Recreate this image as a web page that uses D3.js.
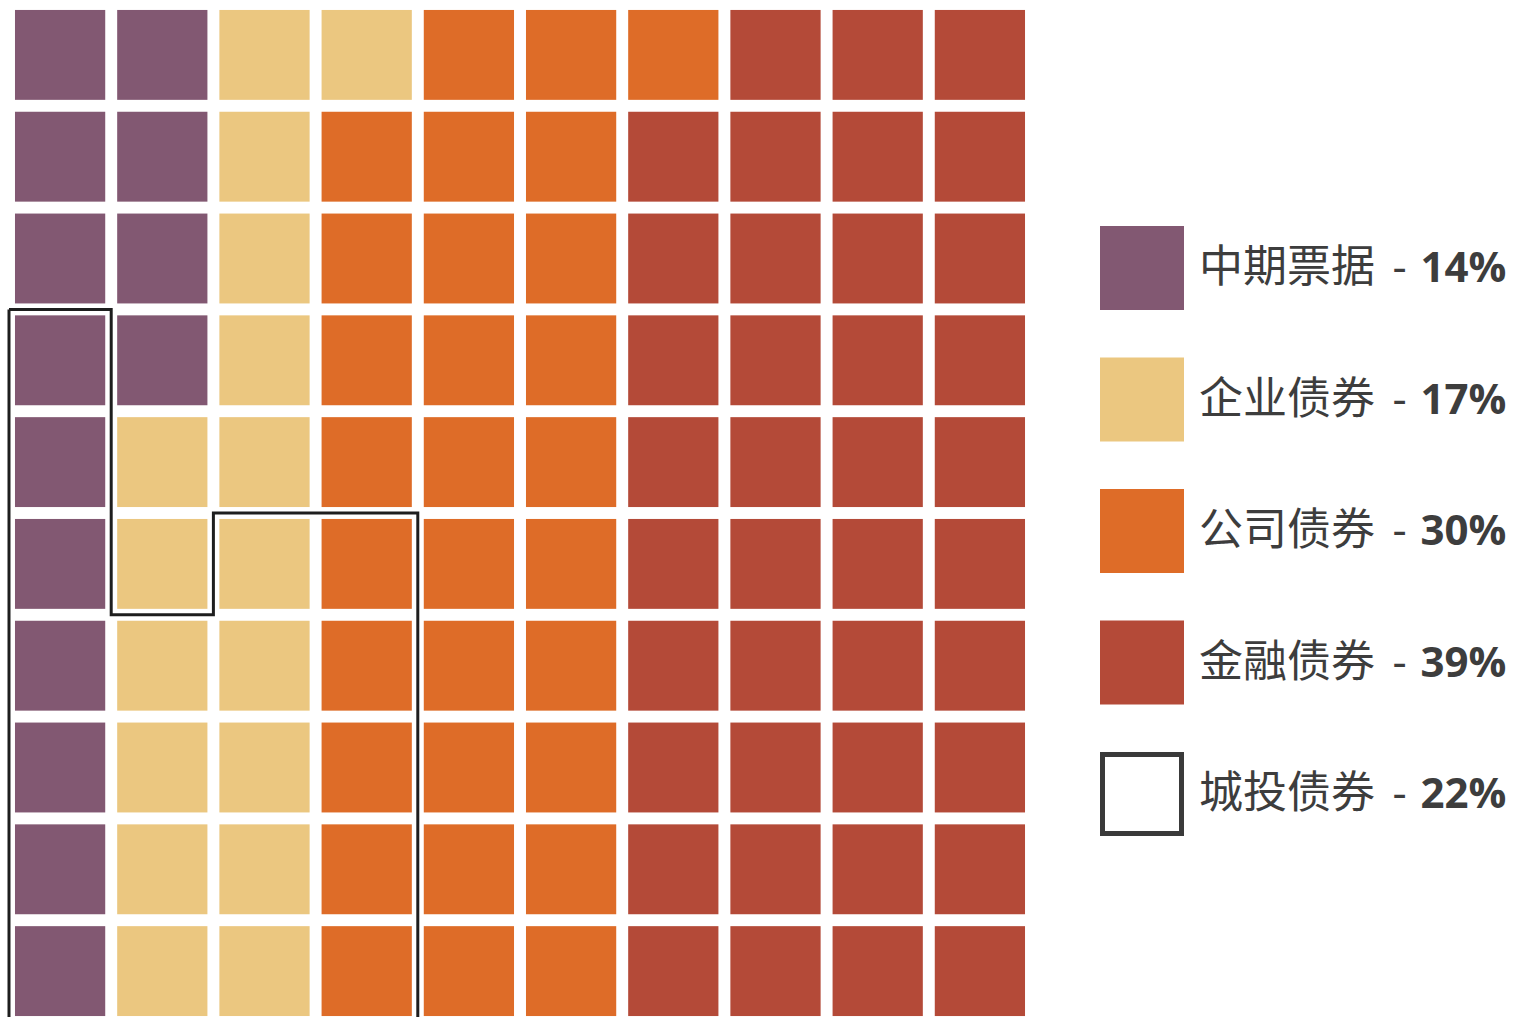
<!DOCTYPE html>
<html>
<head>
<meta charset="utf-8">
<script src="https://cdn.jsdelivr.net/npm/d3@7"></script>
<style>
  html, body { margin: 0; padding: 0; background: #fff; overflow: hidden; }
  svg { display: block; }
</style>
</head>
<body>
<svg id="chart" width="1521" height="1017"></svg>
<script>
// ---- data ----
const categories = ["中期票据", "企业债券", "公司债券", "金融债券"];
const values = [14, 17, 30, 39];
const colors = ["#825872", "#ebc780", "#de6c28", "#b44a38"];
const overlayLabel = "城投债券";
const overlayValue = 22;
// outline of the overlay region, in grid-boundary units [column, row]
const overlayOutline = [[0, 3], [1, 3], [1, 6], [2, 6], [2, 5], [4, 5], [4, 10], [0, 10], [0, 3]];
const gridCols = d3.range(10);
const gridRows = d3.range(10);

// ---- layout ----
const svg = d3.select("#chart");
const x = d3.scaleBand().domain(gridCols).range([9, 1031]).paddingInner(0.117).paddingOuter(0.0585);
const y = d3.scaleBand().domain(gridRows).range([4, 1022]).paddingInner(0.117).paddingOuter(0.0585);
const xB = d3.scaleLinear().domain([0, 10]).range([9, 1031]);
const yB = d3.scaleLinear().domain([0, 10]).range([4, 1022]);

// build cells: column-major, top to bottom
const cells = [];
values.forEach((v, k) => { for (let j = 0; j < v; j++) cells.push(k); });
svg.append("g").selectAll("rect").data(cells).join("rect")
  .attr("x", (d, i) => x(Math.floor(i / 10)))
  .attr("y", (d, i) => y(i % 10))
  .attr("width", x.bandwidth())
  .attr("height", y.bandwidth())
  .attr("fill", d => colors[d]);

// overlay outline
svg.append("path")
  .datum(overlayOutline)
  .attr("d", d3.line().x(d => xB(d[0])).y(d => yB(d[1])))
  .attr("fill", "none")
  .attr("stroke", "#1e1e1e")
  .attr("stroke-width", 3);

// legend
const legendItems = categories.map((c, i) => ({ label: c, value: values[i], color: colors[i], outline: false }));
legendItems.push({ label: overlayLabel, value: overlayValue, color: "none", outline: true });
const ly = d3.scaleLinear().domain([0, 4]).range([226, 752]);
const lg = svg.append("g").selectAll("g").data(legendItems).join("g")
  .attr("transform", (d, i) => `translate(1100,${ly(i)})`);
lg.append("rect")
  .attr("x", d => d.outline ? 2.5 : 0)
  .attr("y", d => d.outline ? 2.5 : 0)
  .attr("width", d => d.outline ? 79 : 84)
  .attr("height", d => d.outline ? 79 : 84)
  .attr("fill", d => d.outline ? "#fff" : d.color)
  .attr("stroke", d => d.outline ? "#3a3a3a" : "none")
  .attr("stroke-width", 5);
const txt = lg.append("text")
  .attr("x", 99)
  .attr("y", 56)
  .attr("fill", "#3d3d3d")
  .style("font-family", "'Open Sans', 'Noto Sans CJK SC', sans-serif")
  .style("font-size", "44px");
txt.append("tspan").style("font-family", "'Noto Sans CJK SC', sans-serif").text(d => d.label);
txt.append("tspan").attr("dx", 6).text(" -");
txt.append("tspan").attr("dx", 3).attr("font-weight", "bold").style("font-size", "42px").text(d => " " + d.value + "%");
</script>
</body>
</html>
